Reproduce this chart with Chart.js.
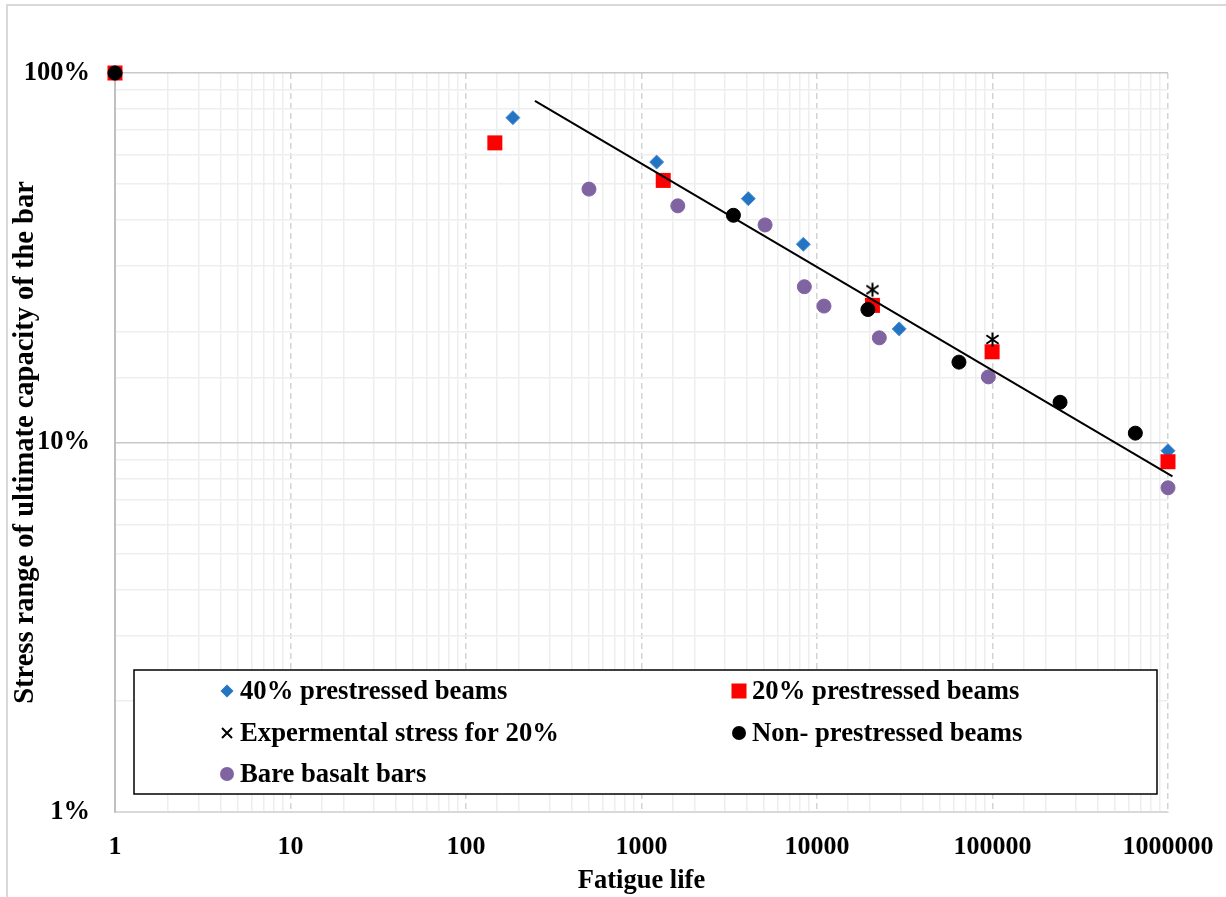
<!DOCTYPE html>
<html lang="en">
<head>
<meta charset="UTF-8">
<title>Fatigue life</title>
<script src="https://cdn.jsdelivr.net/npm/chart.js"></script>
<style>
    body {
        margin: 0;
        background: #ffffff;
    }

    .chart-box {
        position: relative;
        width: 1226px;
        height: 897px;
    }
</style>
</head>
<body>
<div class="chart-box">
    <canvas id="grafico" width="1226" height="897"></canvas>
</div>

<script>
    // fatigue life (cycles) and stress range (% of ultimate capacity)
    const life40 = [1, 185, 1220, 4060, 8360, 29400, 1000000];
    const stress40 = [100, 75.7, 57.4, 45.7, 34.4, 20.3, 9.5];

    const life20 = [1, 146, 1330, 20700, 99500, 1000000];
    const stress20 = [100, 64.7, 51.2, 23.5, 17.6, 8.87];

    const lifeExp = [20700, 100000];
    const stressExp = [25.9, 19.0];

    const lifeNon = [1, 3340, 19500, 64400, 242600, 651500];
    const stressNon = [100, 41.2, 22.9, 16.5, 12.85, 10.6];

    const lifeBare = [1, 502, 1610, 5060, 8470, 10960, 22650, 94700, 1000000];
    const stressBare = [100, 48.5, 43.7, 38.8, 26.4, 23.4, 19.2, 15.05, 7.54];

    // fitted line drawn in the figure (its two ends)
    const lifeTrend = [247, 1060000];
    const stressTrend = [84.0, 8.1];

    const seriesNames = ["40% prestressed beams", "20% prestressed beams", "Expermental stress for 20%",
        "Non- prestressed beams", "Bare basalt bars"];

    const FONT = "'Liberation Serif', 'Times New Roman', serif";

    function pts(xs, ys) {
        return xs.map((x, i) => ({ x: x, y: ys[i] }));
    }

    function isDecade(v) {
        if (v === undefined || v === null) return false;
        const l = Math.log10(v);
        return Math.abs(l - Math.round(l)) < 1e-9;
    }

    // asterisk marker like the spreadsheet one
    function makeStar(size) {
        const c = document.createElement("canvas");
        c.width = size; c.height = size;
        const g = c.getContext("2d");
        const m = size / 2, r = size / 2 - 1.5;
        g.strokeStyle = "#000000";
        g.lineWidth = 2;
        g.beginPath();
        g.moveTo(m, m - r); g.lineTo(m, m + r);
        g.moveTo(m - r * 0.87, m - r * 0.6); g.lineTo(m + r * 0.87, m + r * 0.6);
        g.moveTo(m - r * 0.87, m + r * 0.6); g.lineTo(m + r * 0.87, m - r * 0.6);
        g.stroke();
        return c;
    }

    const framePlugin = {
        id: "frame",
        beforeDraw(chart) {
            const ctx = chart.ctx;
            ctx.save();
            ctx.fillStyle = "#ffffff";
            ctx.fillRect(0, 0, chart.width, chart.height);
            ctx.strokeStyle = "#d9d9d9";
            ctx.lineWidth = 2;
            ctx.strokeRect(7, 5, 1300, 1000);
            ctx.restore();
        }
    };

    // legend box inside the plot, as in the original
    const legendPlugin = {
        id: "boxLegend",
        afterDraw(chart) {
            const ctx = chart.ctx;
            ctx.save();
            ctx.fillStyle = "#ffffff";
            ctx.fillRect(134, 670, 1023, 124);
            ctx.strokeStyle = "#000000";
            ctx.lineWidth = 1.5;
            ctx.strokeRect(134, 670, 1023, 124);

            const items = [
                { x: 227, y: 691, kind: "diamond" },
                { x: 739, y: 691, kind: "square" },
                { x: 227, y: 733, kind: "cross" },
                { x: 739, y: 733, kind: "dot" },
                { x: 227, y: 774, kind: "purple" }
            ];
            ctx.font = "bold 26.7px " + FONT;
            ctx.textBaseline = "middle";
            ctx.textAlign = "left";
            items.forEach((it, i) => {
                ctx.beginPath();
                if (it.kind === "diamond") {
                    ctx.fillStyle = "#2474c4";
                    ctx.moveTo(it.x, it.y - 6.5); ctx.lineTo(it.x + 6.5, it.y);
                    ctx.lineTo(it.x, it.y + 6.5); ctx.lineTo(it.x - 6.5, it.y);
                    ctx.closePath(); ctx.fill();
                } else if (it.kind === "square") {
                    ctx.fillStyle = "#ff0000";
                    ctx.fillRect(it.x - 7.5, it.y - 7.5, 15, 15);
                } else if (it.kind === "cross") {
                    ctx.strokeStyle = "#000000"; ctx.lineWidth = 2;
                    ctx.moveTo(it.x - 5, it.y - 5); ctx.lineTo(it.x + 5, it.y + 5);
                    ctx.moveTo(it.x - 5, it.y + 5); ctx.lineTo(it.x + 5, it.y - 5);
                    ctx.stroke();
                } else {
                    ctx.fillStyle = it.kind === "dot" ? "#000000" : "#8064a2";
                    ctx.arc(it.x, it.y, 7, 0, Math.PI * 2);
                    ctx.fill();
                }
                ctx.fillStyle = "#000000";
                ctx.fillText(seriesNames[i], it.x + 13, it.y + 1);
            });
            ctx.restore();
        }
    };

    const ctx = document.getElementById("grafico").getContext("2d");
    const chart = new Chart(ctx, {
        type: "scatter",
        data: {
            datasets: [
                {
                    label: "trend",
                    type: "line",
                    data: pts(lifeTrend, stressTrend),
                    borderColor: "#000000",
                    borderWidth: 2,
                    pointRadius: 0,
                    fill: false,
                    clip: false
                },
                {
                    label: seriesNames[3],
                    data: pts(lifeNon, stressNon),
                    pointStyle: "circle",
                    pointRadius: 7,
                    backgroundColor: "#000000",
                    borderColor: "#000000",
                    borderWidth: 1,
                    clip: false
                },
                {
                    label: seriesNames[2],
                    data: pts(lifeExp, stressExp),
                    pointStyle: makeStar(17),
                    pointRadius: 8,
                    clip: false
                },
                {
                    label: seriesNames[1],
                    data: pts(life20, stress20),
                    pointStyle: "rect",
                    pointRadius: 10.6,
                    backgroundColor: "#ff0000",
                    borderColor: "#ff0000",
                    borderWidth: 0,
                    clip: false
                },
                {
                    label: seriesNames[4],
                    data: pts(lifeBare, stressBare),
                    pointStyle: "circle",
                    pointRadius: 7,
                    backgroundColor: "#8064a2",
                    borderColor: "#8064a2",
                    borderWidth: 1,
                    clip: false
                },
                {
                    label: seriesNames[0],
                    data: pts(life40, stress40),
                    pointStyle: "rectRot",
                    pointRadius: 7,
                    backgroundColor: "#2474c4",
                    borderColor: "#4b8fd3",
                    borderWidth: 1,
                    clip: false
                }
            ]
        },
        options: {
            responsive: false,
            animation: false,
            devicePixelRatio: 1,
            layout: { padding: { top: 73, right: 58, left: 0, bottom: 0 } },
            plugins: {
                legend: { display: false },
                tooltip: { enabled: false }
            },
            scales: {
                x: {
                    type: "logarithmic",
                    min: 1,
                    max: 1000000,
                    afterFit: s => {
                        s.height = 85;
                        s.paddingLeft = 0;
                        s.paddingRight = 0;
                    },
                    ticks: {
                        autoSkip: false,
                        maxRotation: 0,
                        minRotation: 0,
                        padding: 20,
                        color: "#000000",
                        font: { family: FONT, size: 26, weight: "bold" },
                        callback: v => isDecade(v) ? String(Math.round(v)) : ""
                    },
                    grid: {
                        drawTicks: false,
                        color: c => isDecade(c.tick && c.tick.value) ? "#d4d4d4" : "#eeeeee",
                        lineWidth: 1.5
                    },
                    border: {
                        color: "#d9d9d9",
                        width: 2,
                        dash: c => isDecade(c.tick && c.tick.value) ? [6, 4] : []
                    },
                    title: {
                        display: true,
                        text: "Fatigue life",
                        color: "#000000",
                        font: { family: FONT, size: 26.5, weight: "bold", lineHeight: 1.2 },
                        padding: { top: 0, bottom: 0 }
                    }
                },
                y: {
                    type: "logarithmic",
                    min: 1,
                    max: 100,
                    afterFit: s => { s.width = 115; },
                    ticks: {
                        autoSkip: false,
                        padding: 25,
                        color: "#000000",
                        font: { family: FONT, size: 26.5, weight: "bold" },
                        callback: v => isDecade(v) ? Math.round(v) + "%" : ""
                    },
                    grid: {
                        drawTicks: false,
                        color: c => isDecade(c.tick && c.tick.value) ? "#c8c8c8" : "#eeeeee",
                        lineWidth: 1.5
                    },
                    border: {
                        color: "#c0c0c0",
                        width: 2
                    },
                    title: {
                        display: true,
                        text: "Stress range of ultimate capacity of the bar",
                        color: "#000000",
                        font: { family: FONT, size: 28.5, weight: "bold", lineHeight: 1.2 },
                        padding: { top: 9, bottom: 0 }
                    }
                }
            }
        },
        plugins: [framePlugin, legendPlugin]
    });
</script>
</body>
</html>
